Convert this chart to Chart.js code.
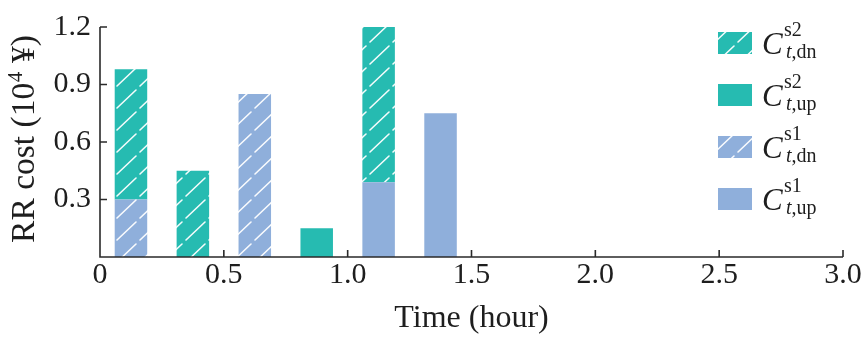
<!DOCTYPE html>
<html>
<head>
<meta charset="utf-8">
<script src="https://cdn.jsdelivr.net/npm/chart.js@4/dist/chart.umd.min.js"></script>
<style>
  html, body { margin: 0; padding: 0; background: #ffffff; }
  #wrap { width: 863px; height: 341px; }
</style>
</head>
<body>
<div id="wrap"><canvas id="c" width="863" height="341"></canvas></div>
<script>
// 15-minute intervals over three hours (bar centres, in hours)
const times = [0.125, 0.375, 0.625, 0.875, 1.125, 1.375, 1.625, 1.875, 2.125, 2.375, 2.625, 2.875];

// Reserve costs (10^4 yuan) per interval
const s1Up = [0, 0, 0, 0, 0.39, 0.75, 0, 0, 0, 0, 0, 0];
const s1Dn = [0.30, 0, 0.85, 0, 0, 0, 0, 0, 0, 0, 0, 0];
const s2Up = [0, 0, 0, 0.15, 0, 0, 0, 0, 0, 0, 0, 0];
const s2Dn = [0.68, 0.45, 0, 0, 0.81, 0, 0, 0, 0, 0, 0, 0];

const xTicks = [0, 0.5, 1.0, 1.5, 2.0, 2.5, 3.0];
const yTicks = [0.3, 0.6, 0.9, 1.2];

const TEAL = '#26bbb1';
const BLUE = '#8fafdb';
const INK = '#2a2a2a';
const SERIF = '"Liberation Serif", "Times New Roman", serif';

const canvas = document.getElementById('c');
const ctx = canvas.getContext('2d');

// diagonal white hatch on a solid fill
function hatch(color) {
  const t = document.createElement('canvas');
  t.width = 23; t.height = 22;
  const g = t.getContext('2d');
  g.fillStyle = color;
  g.fillRect(0, 0, 23, 22);
  g.strokeStyle = 'rgba(255,255,255,0.95)';
  g.lineWidth = 1.6;
  g.lineCap = 'round';
  g.beginPath();
  g.moveTo(2, 20);
  g.lineTo(21, 2);
  g.stroke();
  return ctx.createPattern(t, 'repeat');
}

const fills = {
  s2dn: hatch(TEAL),
  s2up: TEAL,
  s1dn: hatch(BLUE),
  s1up: BLUE
};

const pts = vals => times.map((t, i) => ({ x: t, y: vals[i] }));

const legendRows = [
  { fill: fills.s2dn, sup: 's2', sub: 'dn' },
  { fill: fills.s2up, sup: 's2', sub: 'up' },
  { fill: fills.s1dn, sup: 's1', sub: 'dn' },
  { fill: fills.s1up, sup: 's1', sub: 'up' }
];

const decorations = {
  id: 'decorations',
  afterDatasetsDraw(chart) {
    const c = chart.ctx;
    const xs = chart.scales.x, ys = chart.scales.y;
    const L = chart.chartArea.left, R = chart.chartArea.right;
    const T = ys.getPixelForValue(1.2), B = ys.getPixelForValue(0);
    c.save();
    // axes
    c.strokeStyle = INK;
    c.lineWidth = 1.6;
    c.beginPath();
    c.moveTo(L, T);
    c.lineTo(L, B);
    c.lineTo(R, B);
    c.stroke();
    // inward tick marks
    c.beginPath();
    xTicks.forEach(v => {
      if (v === 0) return;
      const px = xs.getPixelForValue(v);
      c.moveTo(px, B);
      c.lineTo(px, B - 7);
    });
    yTicks.forEach(v => {
      const py = ys.getPixelForValue(v);
      c.moveTo(L, py);
      c.lineTo(L + 7, py);
    });
    c.stroke();

    c.fillStyle = '#1e1e1e';
    // x title
    c.font = '32px ' + SERIF;
    c.textAlign = 'center';
    c.textBaseline = 'alphabetic';
    c.fillText('Time (hour)', (L + R) / 2, 327);

    // y title with superscript exponent
    const partA = 'RR cost (10', partB = '4', partC = ' \u00a5)';
    const big = '33.5px ' + SERIF, small = '21px ' + SERIF;
    c.font = big;
    const wA = c.measureText(partA).width, wC = c.measureText(partC).width;
    c.font = small;
    const wB = c.measureText(partB).width;
    const total = wA + wB + 1 + wC;
    c.translate(34, 139);
    c.rotate(-Math.PI / 2);
    c.textAlign = 'left';
    const x0 = -total / 2;
    c.font = big;
    c.fillText(partA, x0, 0);
    c.font = small;
    c.fillText(partB, x0 + wA + 0.5, -12);
    c.font = big;
    c.fillText(partC, x0 + wA + wB + 1, 0);
    c.setTransform(1, 0, 0, 1, 0, 0);

    // legend
    legendRows.forEach((row, i) => {
      const top = 32 + i * 52;
      c.fillStyle = row.fill;
      c.fillRect(718, top, 34, 22);
      c.fillStyle = '#1e1e1e';
      c.textAlign = 'left';
      c.font = 'italic 31px ' + SERIF;
      c.fillText('C', 762, top + 21.5);
      c.font = '20px ' + SERIF;
      c.fillText(row.sup, 784, top + 3.5);
      c.font = 'italic 20px ' + SERIF;
      c.fillText('t', 786, top + 26);
      const wt = c.measureText('t').width;
      c.font = '20px ' + SERIF;
      c.fillText(',' + row.sub, 786 + wt, top + 26);
    });
    c.restore();
  }
};

new Chart(canvas, {
  type: 'bar',
  data: {
    datasets: [
      { label: 'C s1 up', data: pts(s1Up), backgroundColor: fills.s1up },
      { label: 'C s1 dn', data: pts(s1Dn), backgroundColor: fills.s1dn },
      { label: 'C s2 up', data: pts(s2Up), backgroundColor: fills.s2up },
      { label: 'C s2 dn', data: pts(s2Dn), backgroundColor: fills.s2dn }
    ]
  },
  options: {
    responsive: false,
    animation: false,
    events: [],
    layout: { padding: { top: 19, right: 20, left: 0, bottom: 0 } },
    datasets: {
      bar: { categoryPercentage: 1.0, barPercentage: 0.525, borderWidth: 0 }
    },
    plugins: { legend: { display: false }, tooltip: { enabled: false } },
    scales: {
      x: {
        type: 'linear',
        stacked: true,
        min: 0, max: 3,
        offset: false,
        afterFit: s => { s.height = 84; },
        afterBuildTicks: s => { s.ticks = xTicks.map(v => ({ value: v })); },
        grid: { display: false, drawTicks: false },
        border: { display: false },
        ticks: {
          padding: 0,
          maxRotation: 0,
          color: '#1e1e1e',
          font: { family: SERIF, size: 30 },
          callback: v => (v === 0 ? '0' : Number(v).toFixed(1))
        }
      },
      y: {
        stacked: true,
        min: 0, max: 1.2,
        afterFit: s => { s.width = 100; },
        afterBuildTicks: s => { s.ticks = [0].concat(yTicks).map(v => ({ value: v })); },
        grid: { display: false, drawTicks: false },
        border: { display: false },
        ticks: {
          padding: 9,
          color: '#1e1e1e',
          font: { family: SERIF, size: 30 },
          callback: v => (v === 0 ? '' : Number(v).toFixed(1))
        }
      }
    }
  },
  plugins: [decorations]
});
</script>
</body>
</html>
